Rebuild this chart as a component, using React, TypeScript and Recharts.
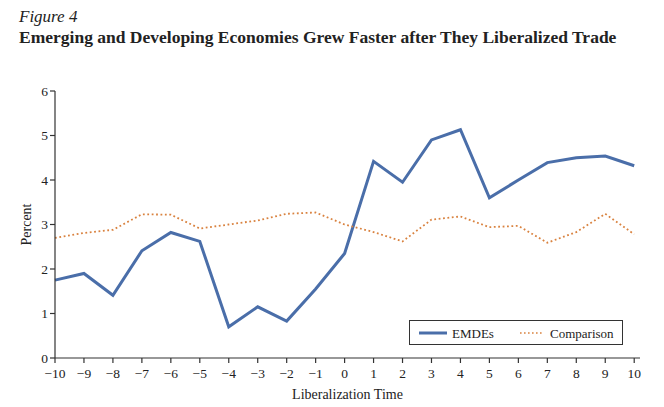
import React from "react";
import { LineChart, Line, XAxis, YAxis } from "recharts";

const years = [-10, -9, -8, -7, -6, -5, -4, -3, -2, -1, 0, 1, 2, 3, 4, 5, 6, 7, 8, 9, 10];
const emdes = [1.75, 1.9, 1.41, 2.41, 2.82, 2.62, 0.7, 1.15, 0.83, 1.55, 2.35, 4.42, 3.95, 4.9, 5.13, 3.6, 4.0, 4.39, 4.5, 4.54, 4.32];
const comparison = [2.7, 2.81, 2.88, 3.23, 3.22, 2.91, 3.0, 3.09, 3.24, 3.27, 3.0, 2.83, 2.62, 3.11, 3.18, 2.94, 2.97, 2.59, 2.83, 3.24, 2.78];
const yTicks = [0, 1, 2, 3, 4, 5, 6];
const seriesNames = ["EMDEs", "Comparison"];

const data = years.map((t, i) => ({ t, emdes: emdes[i], comparison: comparison[i] }));

const FONT = "'Liberation Serif', 'DejaVu Serif', serif";
const BLUE = "#4a6ea9";
const ORANGE = "#d9823f";
const INK = "#333";

const fmt = (v: number) => (v < 0 ? "\u2212" + Math.abs(v) : String(v));

const LegendBox = () => (
  <div
    style={{
      position: "absolute",
      left: 409,
      top: 320,
      width: 212,
      height: 23,
      border: `1.5px solid ${INK}`,
      background: "#fff",
    }}
  >
    <svg width={212} height={23} style={{ position: "absolute", left: 0, top: 0 }}>
      <line x1={9} x2={37} y1={12} y2={12} stroke={BLUE} strokeWidth={3} />
      <line x1={110} x2={134} y1={12} y2={12} stroke={ORANGE} strokeWidth={1.6} strokeDasharray="1.6 2.4" />
      <text x={42} y={16.5} fontFamily={FONT} fontSize={13} fill="#222">{seriesNames[0]}</text>
      <text x={140} y={16.5} fontFamily={FONT} fontSize={13} fill="#222">{seriesNames[1]}</text>
    </svg>
  </div>
);

export default function App() {
  return (
    <div style={{ position: "absolute", left: 0, top: 0, width: 664, height: 407, background: "#fff" }}>
      <div
        style={{
          position: "absolute",
          left: 19,
          top: 7,
          fontFamily: FONT,
          fontStyle: "italic",
          fontSize: 17,
          color: "#222",
          whiteSpace: "nowrap",
        }}
      >
        Figure 4
      </div>
      <div
        style={{
          position: "absolute",
          left: 19,
          top: 27,
          fontFamily: FONT,
          fontWeight: "bold",
          fontSize: 17.5,
          color: "#222",
          whiteSpace: "nowrap",
        }}
      >
        Emerging and Developing Economies Grew Faster after They Liberalized Trade
      </div>
      <div style={{ position: "absolute", left: 0, top: 0 }}>
        <LineChart
          width={664}
          height={407}
          data={data}
          margin={{ top: 91, right: 24, bottom: 0, left: 25 }}
        >
          <XAxis
            dataKey="t"
            type="number"
            domain={[-10, 10.2]}
            ticks={years}
            tickFormatter={fmt}
            height={49}
            axisLine={{ stroke: INK, strokeWidth: 1.2 }}
            tickLine={{ stroke: INK, strokeWidth: 1.2 }}
            tickSize={5}
            tick={{ fontFamily: FONT, fontSize: 13.5, fill: "#222", dy: 3 }}
            label={{ value: "Liberalization Time", position: "insideBottom", offset: 8, style: { fontFamily: FONT, fontSize: 14, fill: "#222" } }}
          />
          <YAxis
            type="number"
            domain={[0, 6]}
            ticks={yTicks}
            width={30}
            axisLine={{ stroke: INK, strokeWidth: 1.2 }}
            tickLine={{ stroke: INK, strokeWidth: 1.2 }}
            tickSize={5}
            tick={{ fontFamily: FONT, fontSize: 13.5, fill: "#222" }}
            label={{ value: "Percent", angle: -90, position: "insideLeft", offset: 0, dx: 1, style: { fontFamily: FONT, fontSize: 14, fill: "#222", textAnchor: "middle" } }}
          />
          <Line
            type="linear"
            dataKey="emdes"
            name={seriesNames[0]}
            stroke={BLUE}
            strokeWidth={3}
            dot={false}
            isAnimationActive={false}
          />
          <Line
            type="linear"
            dataKey="comparison"
            name={seriesNames[1]}
            stroke={ORANGE}
            strokeWidth={1.8}
            strokeDasharray="1.8 2.6"
            dot={false}
            isAnimationActive={false}
          />
        </LineChart>
      </div>
      <LegendBox />
    </div>
  );
}
